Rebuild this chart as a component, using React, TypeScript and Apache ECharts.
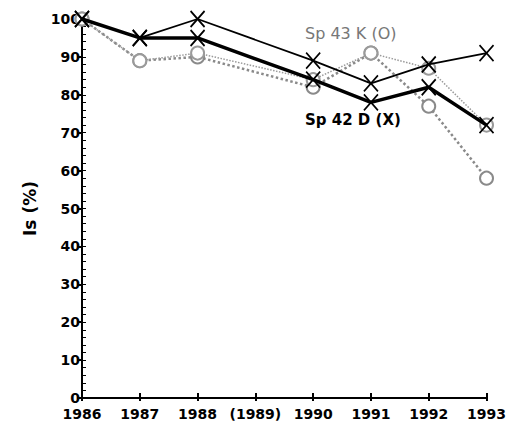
import React, { useEffect, useRef } from "react";
import * as echarts from "echarts";

const years = [1986, 1987, 1988, 1990, 1991, 1992, 1993];
const sp42Thick = [100, 95, 95, 84, 78, 82, 72];
const sp42Thin = [100, 95, 100, 89, 83, 88, 91];
const sp43Thick = [100, 89, 90, 82, 91, 77, 58];
const sp43Thin = [100, 89, 91, 84, 91, 87, 72];
const yTicks = [0, 10, 20, 30, 40, 50, 60, 70, 80, 90, 100];

const pair = (vals: number[]) => years.map((y, i) => [y, vals[i]]);
const XSYM = "path://M0,0L10,12M10,0L0,12";
const FONT = "DejaVu Sans";

export default function App() {
  const ref = useRef<HTMLDivElement>(null);
  useEffect(() => {
    const chart = echarts.init(ref.current!, null, { renderer: "svg" });
    const xBase = {
      type: "value",
      min: 1986,
      max: 1993,
      interval: 1,
      splitLine: { show: false },
    };
    const yBase = {
      type: "value",
      min: yTicks[0],
      max: yTicks[yTicks.length - 1],
      splitLine: { show: false },
    };
    chart.setOption({
      animation: false,
      backgroundColor: "#fff",
      grid: { left: 74, right: 16, top: 11, bottom: 21, containLabel: false },
      xAxis: [
        {
          ...xBase,
          axisLine: { lineStyle: { color: "#000", width: 2 } },
          axisTick: { inside: true, length: 5, lineStyle: { color: "#000", width: 2 } },
          axisLabel: {
            color: "#000",
            fontFamily: FONT,
            fontWeight: "bold",
            fontSize: 14,
            margin: 9,
            formatter: (v: number) => (v === 1989 ? "(1989)" : String(v)),
          },
        },
        {
          ...xBase,
          position: "bottom",
          axisLine: { show: false },
          axisTick: { inside: false, length: 3, lineStyle: { color: "#000", width: 2 } },
          axisLabel: { show: false },
        },
      ],
      yAxis: [
        {
          ...yBase,
          interval: 10,
          name: "Is (%)",
          nameLocation: "middle",
          nameRotate: 90,
          nameGap: 44,
          nameTextStyle: { color: "#000", fontFamily: FONT, fontWeight: "bold", fontSize: 17 },
          axisLine: { lineStyle: { color: "#000", width: 2 } },
          axisTick: { length: 5, lineStyle: { color: "#000", width: 2 } },
          axisLabel: {
            color: "#000",
            fontFamily: FONT,
            fontWeight: "bold",
            fontSize: 14,
            margin: 2,
          },
        },
        {
          ...yBase,
          interval: 2,
          position: "left",
          axisLine: { show: false },
          axisTick: { inside: true, length: 4, lineStyle: { color: "#000", width: 1 } },
          axisLabel: { show: false },
        },
      ],
      series: [
        {
          type: "line",
          data: pair(sp43Thick),
          symbol: "emptyCircle",
          symbolSize: 13,
          lineStyle: { color: "#8a8a8a", width: 2.5, type: "dotted" },
          itemStyle: { color: "#8a8a8a", borderWidth: 1.3 },
          z: 2,
        },
        {
          type: "line",
          data: pair(sp43Thin),
          symbol: "emptyCircle",
          symbolSize: 13,
          lineStyle: { color: "#9a9a9a", width: 1.5, type: "dotted" },
          itemStyle: { color: "#9a9a9a", borderWidth: 1.3 },
          z: 2,
        },
        {
          type: "line",
          data: pair(sp42Thin),
          symbol: XSYM,
          symbolSize: [14, 16],
          lineStyle: { color: "#000", width: 1.8 },
          itemStyle: { color: "none", borderColor: "#000", borderWidth: 1.8 },
          z: 3,
        },
        {
          type: "line",
          data: pair(sp42Thick),
          symbol: XSYM,
          symbolSize: [14, 16],
          lineStyle: { color: "#000", width: 3.5 },
          itemStyle: { color: "none", borderColor: "#000", borderWidth: 1.8 },
          z: 4,
        },
      ],
      graphic: [
        {
          type: "text",
          left: 297,
          top: 17,
          style: { text: "Sp 43 K (O)", fill: "#777", font: `16px ${FONT}` },
        },
        {
          type: "text",
          left: 297,
          top: 104,
          style: { text: "Sp 42 D (X)", fill: "#000", font: `bold 15px ${FONT}` },
        },
      ],
    });
    return () => chart.dispose();
  }, []);
  return <div ref={ref} style={{ width: 501, height: 413 }} />;
}
